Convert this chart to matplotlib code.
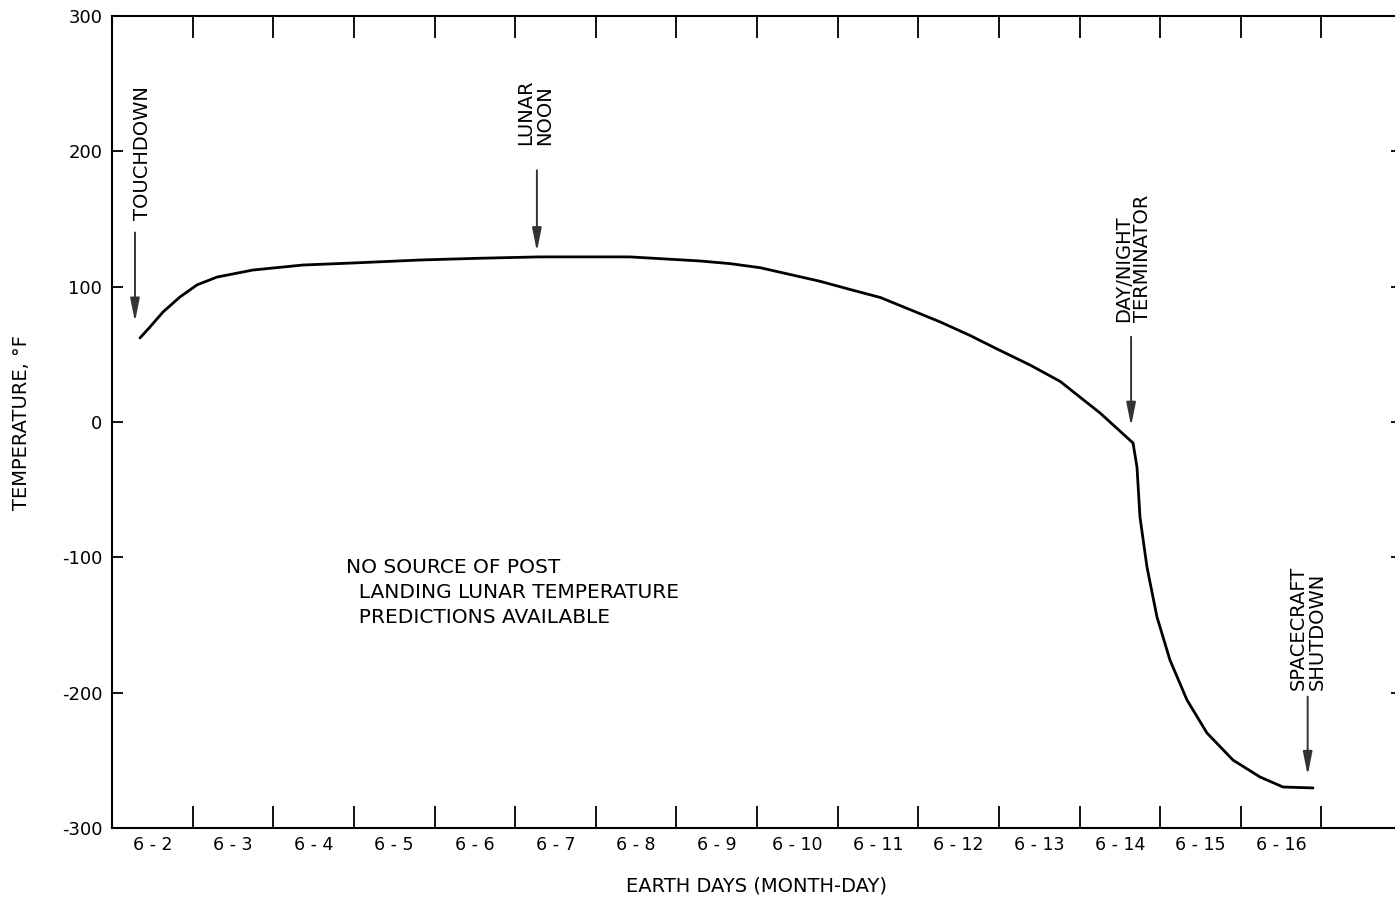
import matplotlib
matplotlib.use("Agg")
import matplotlib.pyplot as plt
import numpy as np

# Data (day-of-June as decimal, temperature °F)
day = [2.347, 2.471, 2.633, 2.843, 3.054, 3.302, 3.749, 4.369, 4.989, 5.820,
       6.56, 7.30, 7.80, 8.42, 9.29, 9.67, 10.04, 10.78, 11.15, 11.53, 11.90,
       12.27, 12.64, 13.01, 13.39, 13.76, 14.254, 14.664, 14.713, 14.75,
       14.837, 14.961, 15.122, 15.333, 15.581, 15.904, 16.239, 16.524, 16.896]
temp = [62.1, 70.2, 81.3, 92.4, 101.3, 107.1, 112.3, 116.0, 117.5, 119.7,
        121, 122, 122, 122, 119, 117, 114, 104, 98, 92, 83,
        74, 64, 53, 42, 30, 6.7, -15.5, -33.3, -70.2,
        -107.2, -144.1, -175.9, -205.4, -229.8, -249.8, -262.3, -269.7, -270.4]

day_labels = ["6 - 2", "6 - 3", "6 - 4", "6 - 5", "6 - 6", "6 - 7", "6 - 8",
              "6 - 9", "6 - 10", "6 - 11", "6 - 12", "6 - 13", "6 - 14",
              "6 - 15", "6 - 16"]
y_ticks = [300, 200, 100, 0, -100, -200, -300]

# annotations: (label, arrow_x, text_x, text_bottom, arrow_top, arrow_tip)
events = [
    ("TOUCHDOWN", 2.285, 2.384, 149, 140, 74),
    ("LUNAR\nNOON", 7.27, 7.25, 205, 186, 126),
    ("DAY/NIGHT\nTERMINATOR", 14.64, 14.66, 74, 63, -3),
    ("SPACECRAFT\nSHUTDOWN", 16.83, 16.83, -198, -203, -261),
]

plt.rcParams['font.family'] = ['DejaVu Sans']
fig = plt.figure(figsize=(13.95, 9.05), dpi=100)
ax = fig.add_axes([112/1395, 77/905, 1290/1395, 812/905])

ax.plot(day, temp, color='black', lw=2.0, solid_joinstyle='round',
        solid_capstyle='round')

ax.set_xlim(2, 18)
ax.set_ylim(-300, 300)

ax.set_xticks(np.arange(3, 18))
ax.set_xticklabels([])
ax.set_xticks(np.arange(2.5, 2.5 + len(day_labels)), minor=True)
ax.set_xticklabels(day_labels, minor=True, fontsize=12.5)
ax.tick_params(axis='x', which='major', direction='in', length=16, width=1.3,
               top=True, bottom=True)
ax.tick_params(axis='x', which='minor', length=0, pad=6)

ax.set_yticks(y_ticks)
ax.set_yticklabels([str(v) for v in y_ticks], fontsize=13)
ax.tick_params(axis='y', direction='in', length=8, width=1.3, right=True, pad=7)

for s in ['left', 'top', 'bottom', 'right']:
    ax.spines[s].set_linewidth(1.5)

ax.set_ylabel("TEMPERATURE, °F", fontsize=14, labelpad=22)
ax.set_xlabel("EARTH DAYS (MONTH-DAY)", fontsize=14, labelpad=16)

for label, ax_x, tx, ty, a_top, a_tip in events:
    ax.annotate("", xy=(ax_x, a_tip), xytext=(ax_x, a_top),
                arrowprops=dict(arrowstyle='-|>,head_width=0.28,head_length=1.4',
                                color='#333333', lw=1.4, shrinkA=0, shrinkB=0))
    ax.text(tx, ty, label, rotation=90, ha='center', va='bottom',
            fontsize=14, multialignment='left', linespacing=1.0)

ax.text(2.0 + (346 - 112)/80.625, (422 - 558)/1.3533,
        "NO SOURCE OF POST\n  LANDING LUNAR TEMPERATURE\n  PREDICTIONS AVAILABLE",
        ha='left', va='top', fontsize=14.5, linespacing=1.4)

fig.savefig("out.png", dpi=100)
